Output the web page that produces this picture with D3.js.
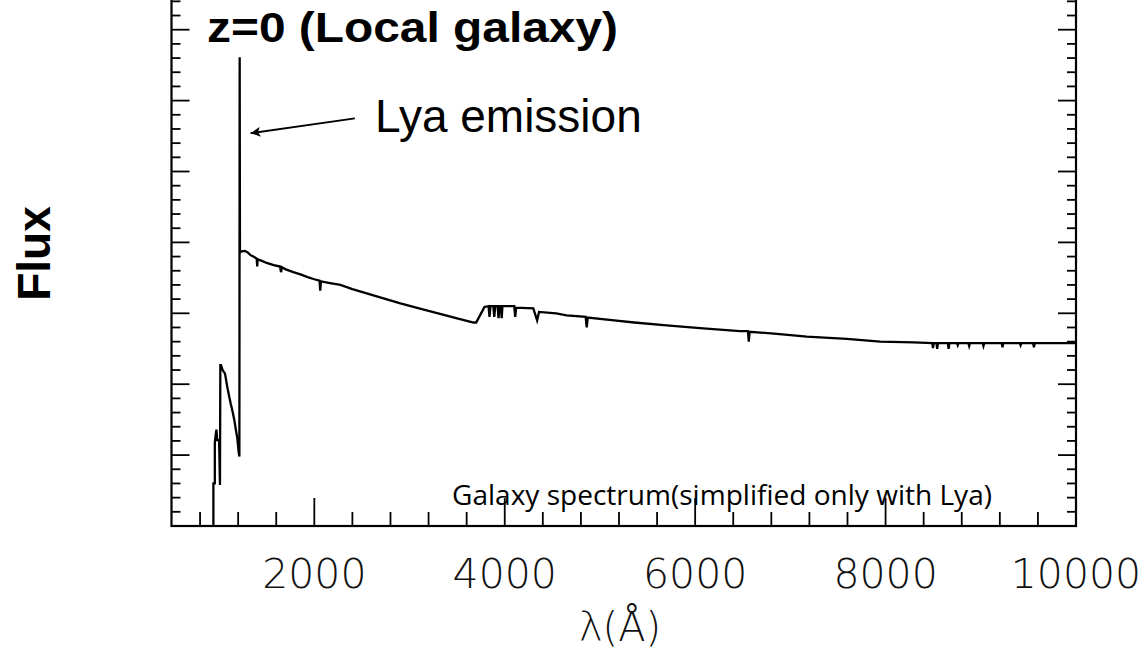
<!DOCTYPE html>
<html>
<head>
<meta charset="utf-8">
<script src="https://cdn.jsdelivr.net/npm/d3@7"></script>
<style>
  html, body { margin: 0; padding: 0; background: #fff; }
  svg { display: block; }
</style>
</head>
<body>
<svg id="chart" width="1144" height="652"></svg>
<script>
// ---- data ----
const wavelength = [
  940, 940, 955, 955, 965, 972, 980, 1000, 1009, 1013, 1020, 1037, 1062, 1086, 1107, 1121, 1142, 1159, 1177, 1191, 1205, 1213, 1216, 1219,
  1225, 1270, 1300, 1330, 1360, 1395, 1400, 1405, 1450, 1500, 1574, 1640, 1650, 1660, 1700, 1780, 1854, 1930, 2000, 2055, 2062, 2070, 2150, 2274,
  2400, 2550, 2700, 2904, 3100, 3300, 3500, 3673, 3700, 3760, 3787, 3830, 3840, 3850, 3880, 3890, 3900, 3925, 3935, 3945, 3960, 3968,
  3976, 4100, 4110, 4120, 4300, 4340, 4360, 4540, 4650, 4850, 4861, 4872, 5150, 5360, 5700, 6050, 6470, 6555, 6563, 6572, 6858, 7173,
  7593, 7943, 8293, 8490, 8498, 8506, 8535, 8542, 8550, 8655, 8662, 8670, 8750, 8758, 8766, 8870, 8878, 8886, 9020, 9028, 9036, 9220,
  9228, 9236, 9410, 9418, 9426, 9550, 9558, 9566, 10000
];
const flux = [
  0, 0.60, 0.60, 1.17, 1.30, 1.36, 1.21, 1.21, 0.58, 2.27, 2.27, 2.20, 2.15, 1.96, 1.82, 1.73, 1.61, 1.50, 1.35, 1.24, 1.05, 0.98, 6.61, 3.85,
  3.87, 3.88, 3.86, 3.82, 3.80, 3.77, 3.66, 3.76, 3.74, 3.71, 3.68, 3.66, 3.58, 3.65, 3.62, 3.58, 3.55, 3.51, 3.48, 3.46, 3.32, 3.45, 3.43, 3.40,
  3.34, 3.28, 3.22, 3.14, 3.07, 3.00, 2.93, 2.87, 2.87, 3.02, 3.09, 3.10, 2.95, 3.10, 3.10, 2.95, 3.10, 3.10, 2.93, 3.10, 3.10, 2.93,
  3.10, 3.10, 2.95, 3.08, 3.07, 2.90, 3.02, 3.00, 2.97, 2.95, 2.80, 2.94, 2.90, 2.87, 2.83, 2.79, 2.75, 2.75, 2.60, 2.74, 2.71, 2.67,
  2.64, 2.60, 2.59, 2.58, 2.51, 2.58, 2.58, 2.50, 2.58, 2.58, 2.50, 2.58, 2.58, 2.55, 2.58, 2.58, 2.54, 2.58, 2.58, 2.54, 2.58, 2.58,
  2.52, 2.58, 2.58, 2.55, 2.58, 2.58, 2.52, 2.58, 2.58
];
const xTickLabels = [2000, 4000, 6000, 8000, 10000];
const xMinorTicks = d3.range(800, 10000, 400).filter(v => v % 2000 !== 0);
const yMajorTicks = d3.range(0, 8, 1);
const yMinorTicks = d3.range(0, 8, 0.2).filter(v => Math.abs(v - Math.round(v)) > 1e-6);

const titleText = "z=0 (Local galaxy)";
const annotationText = "Lya emission";
const noteText = "Galaxy spectrum(simplified only with Lya)";
const xLabel = "\u03BB(\u00C5)";
const yLabel = "Flux";
const arrowFrom = [2426, 5.75];
const arrowTo = [1330, 5.54];

// ---- layout ----
const svg = d3.select("#chart");
const x = d3.scaleLinear().domain([500, 10000]).range([171.5, 1076]);
const y = d3.scaleLinear().domain([0, 8]).range([526, 526 - 8 * 70.9]);

const g = svg.append("g");

// frame
g.append("rect")
  .attr("x", x(500)).attr("y", y(8))
  .attr("width", x(10000) - x(500)).attr("height", y(0) - y(8))
  .attr("fill", "none").attr("stroke", "#000").attr("stroke-width", 2.2);

// x ticks (bottom, pointing up)
g.selectAll(".xmaj").data(xTickLabels.filter(v => v < 10000)).enter().append("line")
  .attr("x1", d => x(d)).attr("x2", d => x(d))
  .attr("y1", y(0)).attr("y2", y(0) - 28)
  .attr("stroke", "#000").attr("stroke-width", 1.8);
g.selectAll(".xmin").data(xMinorTicks).enter().append("line")
  .attr("x1", d => x(d)).attr("x2", d => x(d))
  .attr("y1", y(0)).attr("y2", y(0) - 14)
  .attr("stroke", "#000").attr("stroke-width", 1.8);

// y ticks left and right
[[x(500), 1], [x(10000), -1]].forEach(([x0, dir]) => {
  g.selectAll(null).data(yMajorTicks.filter(v => v > 0)).enter().append("line")
    .attr("x1", x0).attr("x2", x0 + dir * 18)
    .attr("y1", d => y(d)).attr("y2", d => y(d))
    .attr("stroke", "#000").attr("stroke-width", 1.8);
  g.selectAll(null).data(yMinorTicks).enter().append("line")
    .attr("x1", x0).attr("x2", x0 + dir * 9)
    .attr("y1", d => y(d)).attr("y2", d => y(d))
    .attr("stroke", "#000").attr("stroke-width", 1.8);
});

// x tick labels
g.selectAll(".xlab").data(xTickLabels).enter().append("text")
  .attr("x", d => x(d)).attr("y", 588)
  .attr("text-anchor", "middle")
  .attr("font-family", "DejaVu Sans")
  .attr("font-weight", 200)
  .attr("font-size", 41)
  .attr("fill", "#111")
  .text(d => d);

// x label
svg.append("text")
  .attr("x", 620).attr("y", 641)
  .attr("text-anchor", "middle")
  .attr("font-family", "DejaVu Sans")
  .attr("font-weight", 200)
  .attr("font-size", 40)
  .attr("fill", "#111")
  .text(xLabel);

// y label
svg.append("text")
  .attr("transform", "translate(50,253.5) rotate(-90)")
  .attr("text-anchor", "middle")
  .attr("font-family", "Liberation Sans, Arial, sans-serif")
  .attr("font-weight", "bold")
  .attr("font-size", 46)
  .attr("fill", "#000")
  .text(yLabel);

// spectrum
const pts = wavelength.map((w, i) => [w, flux[i]]);
g.append("path")
  .datum(pts)
  .attr("fill", "none")
  .attr("stroke", "#000")
  .attr("stroke-width", 2.3)
  .attr("stroke-linejoin", "miter")
  .attr("d", d3.line().x(d => x(d[0])).y(d => y(d[1])));

// title
svg.append("text")
  .attr("x", 207).attr("y", 42)
  .attr("font-family", "Liberation Sans, Arial, sans-serif")
  .attr("font-weight", "bold")
  .attr("font-size", 42)
  .attr("textLength", 411)
  .attr("lengthAdjust", "spacingAndGlyphs")
  .attr("fill", "#000")
  .text(titleText);

// annotation arrow
svg.append("defs").append("marker")
  .attr("id", "ah").attr("viewBox", "0 0 10 10")
  .attr("refX", 10).attr("refY", 5)
  .attr("markerWidth", 15).attr("markerHeight", 10)
  .attr("markerUnits", "userSpaceOnUse")
  .attr("orient", "auto")
  .append("path").attr("d", "M0,0 L10,5 L0,10 L2.5,5 z").attr("fill", "#000");
svg.append("line")
  .attr("x1", x(arrowFrom[0])).attr("y1", y(arrowFrom[1]))
  .attr("x2", x(arrowTo[0])).attr("y2", y(arrowTo[1]))
  .attr("stroke", "#000").attr("stroke-width", 1.8)
  .attr("marker-end", "url(#ah)");

svg.append("text")
  .attr("x", 375).attr("y", 131.5)
  .attr("font-family", "Liberation Sans, Arial, sans-serif")
  .attr("font-size", 46)
  .attr("fill", "#000")
  .text(annotationText);

// note text
svg.append("text")
  .attr("x", 452).attr("y", 505)
  .attr("font-family", "Open Sans, Lato, sans-serif")
  .attr("font-size", 27.5)
  .attr("textLength", 540)
  .attr("lengthAdjust", "spacingAndGlyphs")
  .attr("fill", "#000")
  .text(noteText);
</script>
</body>
</html>
